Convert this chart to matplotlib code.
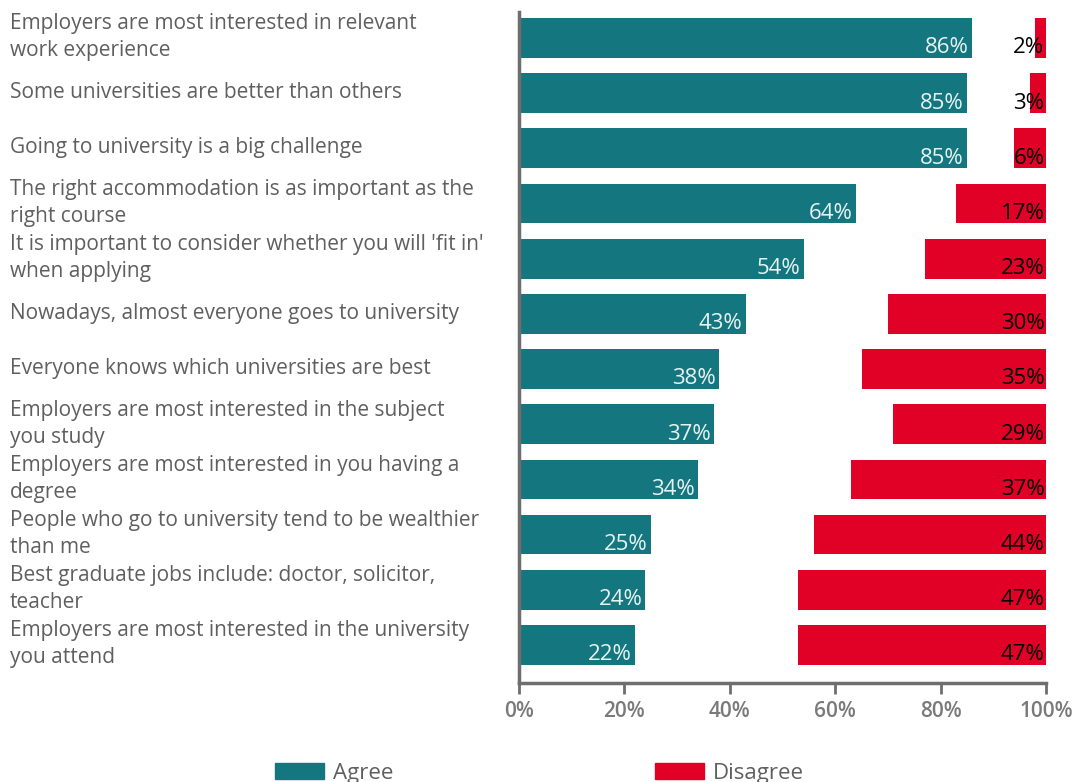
import numpy as np
import matplotlib
matplotlib.use("Agg")
from matplotlib import pyplot as plt
from matplotlib.patches import Patch
from matplotlib.transforms import blended_transform_factory

plt.rcParams['font.family'] = ['Open Sans', 'DejaVu Sans']

statements = [
    "Employers are most interested in relevant\nwork experience",
    "Some universities are better than others",
    "Going to university is a big challenge",
    "The right accommodation is as important as the\nright course",
    "It is important to consider whether you will 'fit in'\nwhen applying",
    "Nowadays, almost everyone goes to university",
    "Everyone knows which universities are best",
    "Employers are most interested in the subject\nyou study",
    "Employers are most interested in you having a\ndegree",
    "People who go to university tend to be wealthier\nthan me",
    "Best graduate jobs include: doctor, solicitor,\nteacher",
    "Employers are most interested in the university\nyou attend",
]
agree = [86, 85, 85, 64, 54, 43, 38, 37, 34, 25, 24, 22]
disagree = [2, 3, 6, 17, 23, 30, 35, 29, 37, 44, 47, 47]

TEAL = '#14777f'
RED = '#e10026'
GREY = '#5f5f5f'
AXGREY = '#6e6e6e'

fig = plt.figure(figsize=(10.79, 7.82), dpi=100)
ax = fig.add_axes([0.481, 0.1266, 0.4884, 0.8581])

y = np.arange(len(statements))
h = 0.72
ax.barh(y, agree, height=h, color=TEAL)
dis_left = [100 - d for d in disagree]
ax.barh(y, disagree, left=dis_left, height=h, color=RED)

# value labels at the right end of each bar
for i in range(len(y)):
    ax.text(agree[i] - 0.6, y[i] + 0.18, f"{agree[i]}%", ha='right', va='center',
            color='#e8f3f3', fontsize=16)
    ax.text(99.7, y[i] + 0.18, f"{disagree[i]}%", ha='right', va='center',
            color='black', fontsize=16)

ax.set_xlim(0, 100)
ax.set_ylim(11.69, -0.47)
ax.set_xticks([0, 20, 40, 60, 80, 100])
ax.set_xticklabels(['0%', '20%', '40%', '60%', '80%', '100%'])
ax.set_yticks([])

for s in ['top', 'right']:
    ax.spines[s].set_visible(False)
for s in ['left', 'bottom']:
    ax.spines[s].set_color(AXGREY)
    ax.spines[s].set_linewidth(2.5)
ax.tick_params(axis='x', direction='out', length=8, width=2, color=AXGREY,
               labelcolor='#7a7a7a', labelsize=15, pad=5)
for t in ax.get_xticklabels():
    t.set_fontweight('semibold')

# statement labels at the left edge of the figure
lab_tr = blended_transform_factory(fig.transFigure, ax.transData)
for i, s in enumerate(statements):
    ax.text(10 / 1079, y[i] - 0.01, s, transform=lab_tr, ha='left', va='center',
            color=GREY, fontsize=15, linespacing=1.38)

handles = [Patch(color=TEAL, label='Agree'), Patch(color=RED, label='Disagree')]
fig.legend(handles=handles, loc='lower center', bbox_to_anchor=(0.5, -0.028), ncol=2,
           frameon=False, fontsize=16, handlelength=2.2, handleheight=0.7,
           columnspacing=11.8, labelcolor=GREY, handletextpad=0.4)

fig.savefig('out.png', dpi=100)
